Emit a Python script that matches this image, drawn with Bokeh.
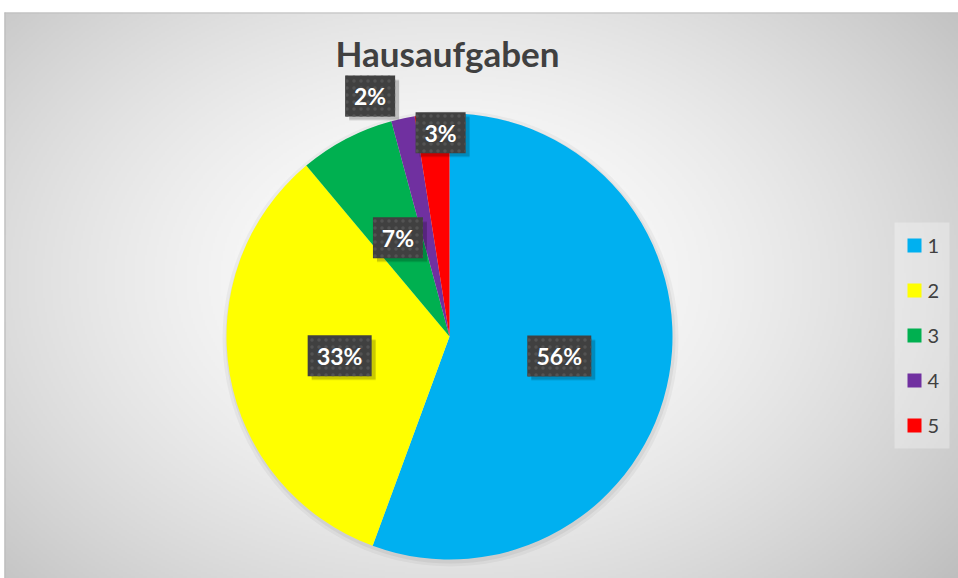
import numpy as np
from bokeh.plotting import figure
from bokeh.models import Range1d, ColumnDataSource
from bokeh.core.properties import value
from bokeh.embed import file_html
from bokeh.resources import INLINE

# ---- data ----
title = "Hausaufgaben"
categories = ["1", "2", "3", "4", "5"]
shares = [55.6, 33.3, 6.9, 1.7, 2.5]          # percent
colors = ["#00B0F0", "#FFFF00", "#00B050", "#7030A0", "#FF0000"]

# ---- styling ----
W, H = 958, 578
CX, CY, R = 449, 242, 223
label_rfac = [0.5, 0.5, 0.5, 1.136, 0.915]
label_nudge_deg = [0, 0, 0, 6.2, -2.0]
TXT = "#404040"
FONT = "Lato"

p = figure(width=W, height=H, output_backend="svg", toolbar_location=None,
           x_range=Range1d(0, W), y_range=Range1d(0, H),
           x_axis_location=None, y_axis_location=None,
           min_border=0, border_fill_color="white", outline_line_color=None)
p.grid.visible = False

# background radial gradient (chart area x 4..958, y 0..566)
X0, BW, BH = 4, 954, 566
gw, gh = BW // 2, BH // 2
xs = X0 + (np.arange(gw) + 0.5) * 2
ys = (np.arange(gh) + 0.5) * 2
X, Y = np.meshgrid(xs, ys)
gx, gy = 449.0, 300.0
d = np.sqrt(((X - gx) / 560.0) ** 2 + ((Y - gy) / 400.0) ** 2)
g = np.clip(255 - 50 * d ** 1.6, 185, 255).astype(np.uint32)
img = (255 << 24) | (g << 16) | (g << 8) | g
p.image_rgba(image=[img.view(np.uint32).reshape(gh, gw)], x=X0, y=0, dw=BW, dh=BH)
p.segment(x0=[X0, X0 + 0.5], y0=[BH - 0.5, 0], x1=[W, X0 + 0.5], y1=[BH - 0.5, BH],
          line_color="#bdbdbd", line_width=1.2)

# pie shadow
p.circle(x=[CX + 1], y=[CY - 2], radius=R + 5, fill_color="black", fill_alpha=0.04, line_color=None)
p.circle(x=[CX + 1], y=[CY - 2], radius=R + 2, fill_color="black", fill_alpha=0.05, line_color=None)

# pie
total = float(sum(shares))
cum = np.cumsum([0.0] + shares) / total
starts = np.pi / 2 - 2 * np.pi * cum[:-1]
ends = np.pi / 2 - 2 * np.pi * cum[1:]
src = ColumnDataSource(dict(cat=categories, start=starts, end=ends, color=colors))
p.wedge(x=CX, y=CY, radius=R, start_angle="start", end_angle="end", direction="clock",
        fill_color="color", line_color=None, source=src)

# data labels
mids = (starts + ends) / 2 + np.radians(label_nudge_deg)
lx = CX + np.array(label_rfac) * R * np.cos(mids)
ly = CY + np.array(label_rfac) * R * np.sin(mids)
labels = [f"{int(np.floor(s + 0.5))}%" for s in shares]
bw = [14 * len(t) + 22 for t in labels]
lsrc = ColumnDataSource(dict(x=lx, y=ly, t=labels, w=bw, xs=lx + 4, ys=ly - 4))
p.rect(x="xs", y="ys", width="w", height=41, fill_color="black", fill_alpha=0.10,
       line_color=None, source=lsrc)
p.rect(x="xs", y="ys", width="w", height=39, fill_color="black", fill_alpha=0.12,
       line_color=None, source=lsrc)
p.rect(x="x", y="y", width="w", height=41, fill_color="#404040", line_color=None,
       hatch_pattern="dot", hatch_color="#535353", hatch_scale=7, hatch_weight=1.5,
       source=lsrc)
p.text(x="x", y="y", text="t", text_color="white", text_font=value(FONT),
       text_font_style="bold", text_font_size="23px", text_align="center",
       text_baseline="middle", source=lsrc)

# title
p.text(x=[447], y=[526], text=[title], text_color=TXT, text_font=value(FONT),
       text_font_style="bold", text_font_size="35px", text_align="center",
       text_baseline="middle")

# legend
p.rect(x=[921.5], y=[243], width=55, height=226, fill_color="white", fill_alpha=0.3,
       line_color=None)
n = len(categories)
leg_y = [243 + ((n - 1) / 2 - i) * 45 for i in range(n)]
legsrc = ColumnDataSource(dict(x=[914] * n, tx=[927] * n, y=leg_y, cat=categories, color=colors))
p.rect(x="x", y="y", width=14, height=14, fill_color="color", line_color=None, source=legsrc)
p.text(x="tx", y="y", text="cat", text_color=TXT, text_font=value(FONT),
       text_font_size="20px", text_align="left", text_baseline="middle", source=legsrc)

open("out.html", "w").write(file_html(p, INLINE))
